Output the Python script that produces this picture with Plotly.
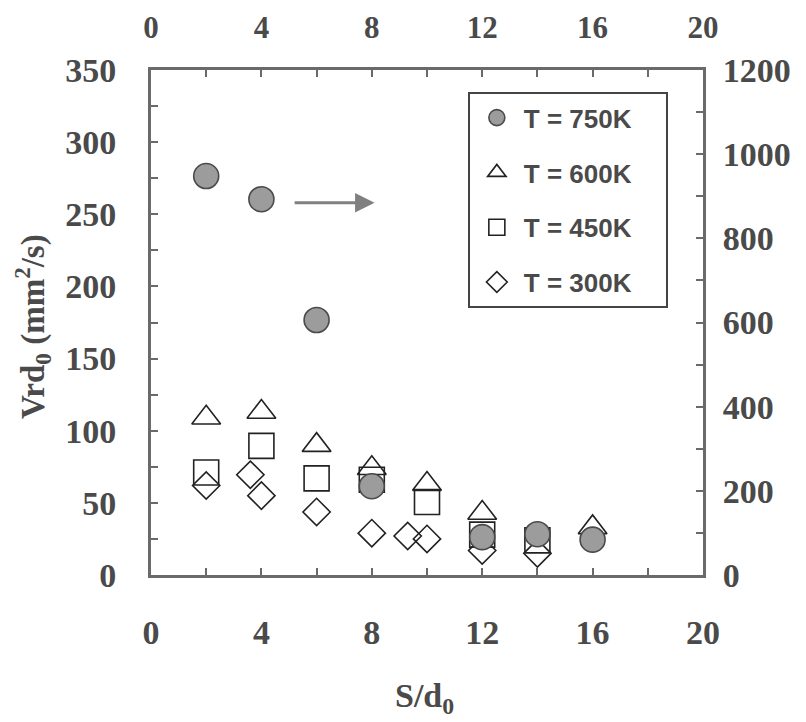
import plotly.graph_objects as go

# ---- data ----
x_750 = [2, 4, 6, 8, 12, 14, 16]
y_750 = [948, 893, 606, 211, 90, 97, 84]          # right axis

x_600 = [2, 4, 6, 8, 10, 12, 16]
y_600 = [109, 113, 90, 74, 63, 43, 33]

x_450 = [2, 4, 6, 8, 10, 12, 14]
y_450 = [71, 89.5, 67, 66, 50.6, 28, 24]

x_300 = [2, 3.6, 4, 6, 8, 9.3, 10, 12, 14]
y_300 = [62, 69.5, 55, 43.7, 29, 27, 25, 17, 15]

x_ticks = [0, 4, 8, 12, 16, 20]
y_left_ticks = [0, 50, 100, 150, 200, 250, 300, 350]
y_right_ticks = [0, 200, 400, 600, 800, 1000, 1200]

labels = ["T = 750K", "T = 600K", "T = 450K", "T = 300K"]

# ---- style ----
INK = "#222222"
AXC = "#6a6a6a"
TEXTC = "#4a4a4a"
TICKFONT = dict(family="Liberation Serif", size=34, color=TEXTC, weight="bold")
TOPFONT = dict(family="Liberation Serif", size=31, color=TEXTC, weight="bold")
PAD = "\u00a0" * 4

fig = go.Figure()

fig.add_trace(go.Scatter(
    x=x_600, y=y_600, mode="markers", name=labels[1] + PAD, legendgroup="b", legendrank=2,
    marker=dict(symbol="triangle-up-open", size=25, color=INK, line=dict(width=1.6, color=INK))))
fig.add_trace(go.Scatter(
    x=x_450, y=y_450, mode="markers", name=labels[2] + PAD, legendgroup="c", legendrank=3,
    marker=dict(symbol="square-open", size=25, color=INK, line=dict(width=1.6, color=INK))))
fig.add_trace(go.Scatter(
    x=x_300, y=y_300, mode="markers", name=labels[3] + PAD, legendgroup="d", legendrank=4,
    marker=dict(symbol="diamond-open", size=21, color=INK, line=dict(width=1.6, color=INK))))
fig.add_trace(go.Scatter(
    x=x_750, y=y_750, mode="markers", name=labels[0] + PAD, legendgroup="a", legendrank=1,
    xaxis="x2", yaxis="y2",
    marker=dict(symbol="circle", size=25, color="#9c9c9c", line=dict(width=1.6, color="#4a4a4a"))))

common_axis = dict(showline=True, linecolor=AXC, linewidth=3, ticks="inside", ticklen=7,
                   tickwidth=2, tickcolor=AXC, showgrid=False, zeroline=False,
                   mirror=False, automargin=False)

def minor(step):
    return dict(dtick=step, ticks="inside", ticklen=7, tickwidth=2, tickcolor=AXC)

# page body has an 8px default margin, so the figure is sized/offset to compensate
fig.update_layout(
    width=798, height=714,
    margin=dict(l=143, r=103, t=62, b=147),
    paper_bgcolor="white", plot_bgcolor="white",
    xaxis=dict(range=[0, 20], tickvals=x_ticks, ticklabelstandoff=25, tickfont=TICKFONT,
               minor=minor(2), **common_axis),
    xaxis2=dict(range=[0, 20], tickvals=x_ticks, overlaying="x", side="top", anchor="y",
                ticklabelstandoff=17, tickfont=TOPFONT, minor=minor(2), **common_axis),
    yaxis=dict(range=[0, 350], tickvals=y_left_ticks, ticklabelstandoff=25, tickfont=TICKFONT,
               minor=minor(25), **common_axis),
    yaxis2=dict(range=[0, 1200], tickvals=y_right_ticks, overlaying="y", side="right",
                anchor="x", ticklabelstandoff=10, tickfont=TICKFONT, minor=minor(100),
                **common_axis),
    legend=dict(x=0.574, y=0.956, xanchor="left", yanchor="top",
                bgcolor="white", bordercolor="#444444", borderwidth=2,
                font=dict(family="Liberation Sans", size=26, color=TEXTC, weight="bold"),
                tracegroupgap=18, itemwidth=44, traceorder="grouped"),
    showlegend=True,
)

# arrow pointing to right axis
fig.add_annotation(x=8.1, y=258, ax=5.15, ay=258, xref="x", yref="y", axref="x", ayref="y",
                   showarrow=True, arrowhead=2, arrowsize=1.3, arrowwidth=3,
                   arrowcolor="#808080", text="")

# axis titles
fig.add_annotation(x=0.495, y=-0.2436, xref="paper", yref="paper", showarrow=False,
                   xanchor="center", yanchor="middle",
                   text="S/d<sub>0</sub>",
                   font=dict(family="Liberation Serif", size=34, color=TEXTC, weight="bold"))
fig.add_annotation(x=-0.2156, y=0.493, xref="paper", yref="paper", showarrow=False,
                   xanchor="center", yanchor="middle",
                   text="Vrd<sub>0</sub> (mm<sup>2</sup>/s)", textangle=-90,
                   font=dict(family="Liberation Serif", size=33, color=TEXTC, weight="bold"))

fig.write_html("out.html")
